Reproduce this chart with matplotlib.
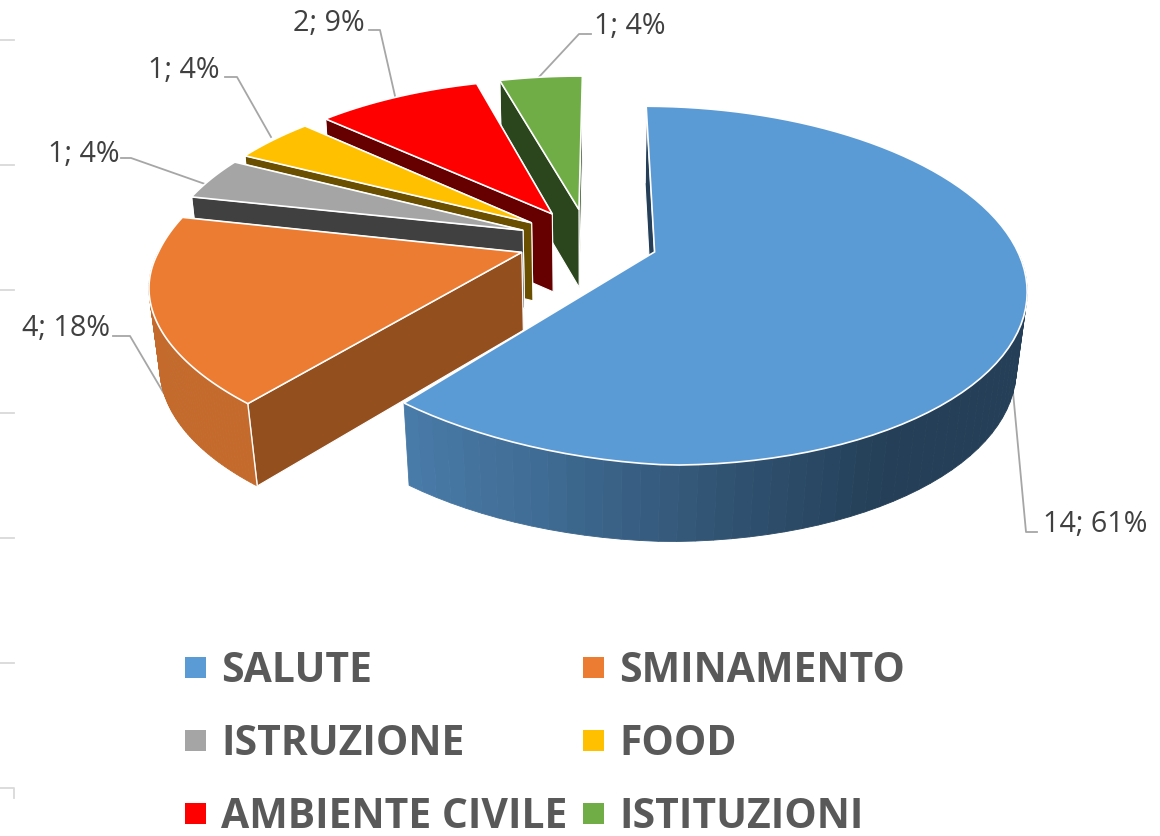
import numpy as np
import matplotlib
matplotlib.use("Agg")
import matplotlib.pyplot as plt
from matplotlib.colors import to_rgb
from matplotlib.patches import Rectangle

categories = ["SALUTE", "SMINAMENTO", "ISTRUZIONE", "FOOD", "AMBIENTE CIVILE", "ISTITUZIONI"]
counts = [14, 4, 1, 1, 2, 1]
percents = [61, 18, 4, 4, 9, 4]
# slice shares as they look on the picture (the tilt distorts them a bit)
shares = [60.3, 17.8, 4.0, 4.3, 8.9, 4.5]
colors = ["#5b9bd5", "#eb7c31", "#a5a5a5", "#ffc000", "#ff0000", "#70ad47"]
wall_colors = ["#243f57", "#934f1e", "#404040", "#6b4f00", "#660000", "#2b451c"]
rim_start = ["#4a7dab", "#c46a2c", "#5f5f5f", "#7a5c00", "#800000", "#3d6128"]
rim_end = ["#243f57", "#c26a2c", "#5f5f5f", "#7a5c00", "#800000", "#3d6128"]

# camera of the fake 3d pie, all in pixels of the output
CX, CY = 588, 241
A, B = 169, 359
K, M = 0.186, 0.024
H, H_TILT = 78, 0.06
EXPLODE = 0.194
START = 0.4
SKEW = 19

# label text position and leader line of each slice
label_xy = [(1043, 532), (22, 336), (48, 162), (148, 78), (293, 31), (594, 34)]
leaders = [
  [(1037, 532), (1026, 532), (1013, 392)],
  [(113, 336), (130, 336), (163, 392)],
  [(121, 158), (131, 158), (205, 184)],
  [(225, 77), (237, 77), (271, 137)],
  [(369, 30), (380, 30), (395, 96)],
  [(591, 34), (579, 34), (539, 77)],
]
axis_ticks = [40, 165, 290, 413, 538, 663]


def project(x, y, z):
  w = 1 + K * y + M * z
  return CX + B * x / w, CY - A * y / w + H * z * (1 - H_TILT * y)


def rim(off, t, z):
  r = np.radians(t)
  sx, cy = np.sin(r), np.cos(r)
  px, py = project(off[0] + sx, off[1] + cy, z)
  # lower left of the reference ellipse sits a bit higher than a pure perspective
  return px, py - SKEW * (1 - 0.55 * z) * min(sx, 0) * min(cy, 0)


def blend(c1, c2, f):
  return tuple((1 - f) * np.array(to_rgb(c1)) + f * np.array(to_rgb(c2)))


fig = plt.figure(figsize=(11.6, 8.36), dpi=100)
ax = fig.add_axes([0, 0, 1, 1])
ax.set_xlim(0, 1160)
ax.set_ylim(836, 0)
ax.axis("off")

edges = START + np.concatenate([[0], np.cumsum(shares)]) / sum(shares) * 360

# far slices first so the near ones paint over them
for i in range(len(counts) - 1, -1, -1):
  t0, t1 = edges[i], edges[i + 1]
  mid = np.radians((t0 + t1) / 2)
  off = (EXPLODE * np.sin(mid), EXPLODE * np.cos(mid))
  ts = np.linspace(t0, t1, 90)
  z = (5 - i) * 4

  # flat walls from the centre to the rim
  for t in (t1, t0):
    pts = [project(off[0], off[1], 0), rim(off, t, 0), rim(off, t, 1), project(off[0], off[1], 1)]
    ax.fill(*zip(*pts), facecolor=wall_colors[i], edgecolor="white", lw=0.8, zorder=z + 1)

  # outer wall, only the part turned to the viewer, small quads for the gradient
  for j in range(len(ts) - 1):
    if np.cos(np.radians(ts[j])) > 0.02 or np.cos(np.radians(ts[j + 1])) > 0.02:
      continue
    if i == 0:
      f = np.interp(ts[j], [148, 170, 195, t1], [0, 0.29, 0.71, 1])
      c = blend(rim_end[i], rim_start[i], f)
    else:
      c = blend(rim_start[i], rim_end[i], j / (len(ts) - 2))
    pts = [rim(off, ts[j], 0), rim(off, ts[j + 1], 0), rim(off, ts[j + 1], 1), rim(off, ts[j], 1)]
    ax.fill(*zip(*pts), facecolor=c, edgecolor=c, lw=0.6, zorder=z + 2)

  xs, ys = zip(rim(off, t0, 0), rim(off, t0, 1))
  ax.plot(xs, ys, color="white", lw=1, zorder=z + 2.5)

  # top face
  top = [project(off[0], off[1], 0)] + [rim(off, t, 0) for t in ts]
  ax.fill(*zip(*top), facecolor=colors[i], edgecolor="white", lw=1.2, joinstyle="miter", zorder=z + 3)

for i in range(len(counts)):
  xs, ys = zip(*leaders[i])
  ax.plot(xs, ys, color="#a6a6a6", lw=1.3, zorder=0.5)
  ax.text(label_xy[i][0], label_xy[i][1], f"{counts[i]}; {percents[i]}%", fontsize=20.7,
          family="Open Sans", color="#404040", va="baseline", ha="left")

# leftovers of the axis at the left edge
for y in axis_ticks:
  ax.plot([0, 14], [y, y], color="#d9d9d9", lw=1.3)
ax.plot([0, 14, 14], [788, 788, 798], color="#d9d9d9", lw=1.3)

# legend
leg_x = [185, 583]
leg_y = [682, 755, 828]
for i, name in enumerate(categories):
  x, y = leg_x[i % 2], leg_y[i // 2]
  ax.add_patch(Rectangle((x, y - 25), 21, 21, facecolor=colors[i], edgecolor="none"))
  ax.text(x + 36, y, name, fontsize=29.4, family="Open Sans", weight="bold", color="#595959",
          va="baseline", ha="left", clip_on=False)

fig.savefig("out.png", dpi=100)
